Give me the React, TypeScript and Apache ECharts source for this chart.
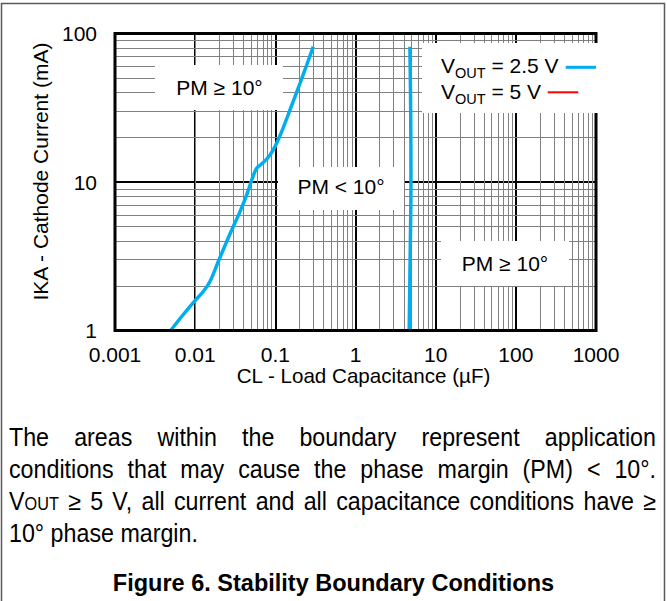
import React, { useEffect, useRef } from 'react';
import * as echarts from 'echarts';

// ---- data ----
const curveAX = [0.00495, 0.00679, 0.00948, 0.01263, 0.01531, 0.01943, 0.02473, 0.02989, 0.03624, 0.04394, 0.05189, 0.05855, 0.07077, 0.08578, 0.09904, 0.12, 0.1524, 0.2031, 0.2461, 0.2976];
const curveAY = [1, 1.242, 1.543, 1.83, 2.136, 2.913, 3.971, 5.011, 6.322, 8.189, 10.66, 12.39, 13.51, 15.22, 17.31, 21.84, 30.56, 46.23, 61.38, 81.5];
const curveBX = [4.67, 4.8, 4.92, 4.88, 4.77];
const curveBY = [1, 3, 10, 30, 81.5];
const seriesNames = ['VOUT = 2.5 V', 'VOUT = 5 V'];
const legendValues = ['= 2.5 V', '= 5 V'];
const xTickLabels = ['0.001', '0.01', '0.1', '1', '10', '100', '1000'];
const yTickLabels = ['1', '10', '100'];
const xTitle = 'CL - Load Capacitance (µF)';
const yTitle = 'IKA - Cathode Current (mA)';
const regionLabels = ['PM ≥ 10°', 'PM < 10°', 'PM ≥ 10°'];
const paragraphLines = [
  'The areas within the boundary represent application',
  'conditions that may cause the phase margin (PM) < 10°.',
  'VOUT ≥ 5 V, all current and all capacitance conditions have ≥',
  '10° phase margin.',
];
const figureTitle = 'Figure 6. Stability Boundary Conditions';

const FONT = '"Liberation Sans", Arial, Helvetica, sans-serif';
const BLUE = '#00AEEF';
const RED = '#FF0000';

function minorValues(minExp: number, maxExp: number) {
  const out: number[] = [];
  for (let e = minExp; e < maxExp; e++) {
    for (let k = 2; k <= 9; k++) out.push(parseFloat((k * Math.pow(10, e)).toPrecision(6)));
  }
  return out;
}

export default function App() {
  const ref = useRef<HTMLDivElement>(null);
  useEffect(() => {
    if (!ref.current) return;
    const chart = echarts.init(ref.current, undefined, { renderer: 'svg' });
    const canvas = document.createElement('canvas');
    const ctx = canvas.getContext('2d')!;
    const measure = (t: string, size: number, bold = false) => {
      ctx.font = `${bold ? 'bold ' : ''}${size}px ${FONT}`;
      return ctx.measureText(t).width;
    };

    const graphics: any[] = [];
    // outer frame
    graphics.push({
      type: 'rect', z: 100, silent: true,
      shape: { x: 1.5, y: 3.5, width: 663, height: 640 },
      style: { fill: 'none', stroke: '#5a5a5a', lineWidth: 1.5 },
    });
    // region label boxes
    const boxes = [
      { x: 155, y: 65, w: 128, h: 45, tx: 219.5, ty: 87.5 },
      { x: 278, y: 167, w: 126, h: 43, tx: 341, ty: 186 },
      { x: 441, y: 241, w: 128, h: 45, tx: 505, ty: 263.5 },
    ];
    boxes.forEach((b, i) => {
      graphics.push({ type: 'rect', z: 50, silent: true, shape: { x: b.x, y: b.y, width: b.w, height: b.h }, style: { fill: '#fff' } });
      graphics.push({
        type: 'text', z: 51, silent: true, x: b.tx, y: b.ty,
        style: { text: regionLabels[i], font: `21px ${FONT}`, fill: '#000', align: 'center', verticalAlign: 'middle' },
      });
    });
    // legend box
    graphics.push({ type: 'rect', z: 50, silent: true, shape: { x: 422, y: 43, width: 177, height: 70 }, style: { fill: '#fff' } });
    const LF = 21, LSF = 14.5;
    const legendRows = [
      { y: 65.6, sy: 73.4, lx1: 565.7, lx2: 596, ly: 67.3, color: BLUE, lw: 3 },
      { y: 91.2, sy: 99.0, lx1: 547.7, lx2: 578.3, ly: 92.3, color: RED, lw: 2 },
    ];
    legendRows.forEach((r, i) => {
      let x = 441;
      graphics.push({ type: 'text', z: 51, silent: true, x, y: r.y, style: { text: 'V', font: `${LF}px ${FONT}`, fill: '#000', align: 'left', verticalAlign: 'middle' } });
      x += measure('V', LF);
      graphics.push({ type: 'text', z: 51, silent: true, x, y: r.sy, style: { text: 'OUT', font: `${LSF}px ${FONT}`, fill: '#000', align: 'left', verticalAlign: 'middle' } });
      x += measure('OUT', LSF);
      graphics.push({ type: 'text', z: 51, silent: true, x, y: r.y, style: { text: ' ' + legendValues[i], font: `${LF}px ${FONT}`, fill: '#000', align: 'left', verticalAlign: 'middle' } });
      graphics.push({ type: 'line', z: 51, silent: true, shape: { x1: r.lx1, y1: r.ly, x2: r.lx2, y2: r.ly }, style: { stroke: r.color, lineWidth: r.lw } });
    });

    // paragraph (justified), slightly condensed glyphs
    const PF = 25, SF = 17.5, PSX = 0.93, L = 9, R = 656;
    const baselines = [446, 478, 510, 542];
    paragraphLines.forEach((line, li) => {
      const words = line.split(' ');
      const widths = words.map((w) => PSX * (w === 'VOUT' ? measure('V', PF) + measure('OUT', SF) : measure(w, PF)));
      const total = widths.reduce((a, b) => a + b, 0);
      const last = li === paragraphLines.length - 1;
      const gap = last ? PSX * measure(' ', PF) : (R - L - total) / (words.length - 1);
      const yc = baselines[li] - 0.3465 * PF;
      let x = L;
      words.forEach((w, wi) => {
        if (w === 'VOUT') {
          graphics.push({ type: 'text', z: 51, silent: true, x, y: yc, scaleX: PSX, style: { text: 'V', font: `${PF}px ${FONT}`, fill: '#000', align: 'left', verticalAlign: 'middle' } });
          graphics.push({ type: 'text', z: 51, silent: true, x: x + PSX * measure('V', PF), y: baselines[li] - 0.3465 * SF, scaleX: PSX, style: { text: 'OUT', font: `${SF}px ${FONT}`, fill: '#000', align: 'left', verticalAlign: 'middle' } });
        } else {
          graphics.push({ type: 'text', z: 51, silent: true, x, y: yc, scaleX: PSX, style: { text: w, font: `${PF}px ${FONT}`, fill: '#000', align: 'left', verticalAlign: 'middle' } });
        }
        x += widths[wi] + gap;
      });
    });
    graphics.push({
      type: 'text', z: 51, silent: true, x: 333.5, y: 582.8,
      style: { text: figureTitle, font: `bold 23.5px ${FONT}`, fill: '#000', align: 'center', verticalAlign: 'middle' },
    });

    const xMinor = minorValues(-3, 3);
    const yMinor = minorValues(0, 2);

    const option: any = {
      animation: false,
      backgroundColor: '#fff',
      grid: { left: 115, top: 33.5, width: 481, height: 297, show: true, z: 10, borderColor: '#000', borderWidth: 3, backgroundColor: 'transparent' },
      xAxis: {
        type: 'log', logBase: 10, min: 0.001, max: 1000,
        axisLine: { show: false },
        axisTick: { show: false },
        axisLabel: {
          margin: 13, fontSize: 21, color: '#000', fontFamily: FONT,
          formatter: (v: number) => xTickLabels[Math.round(Math.log10(v)) + 3] ?? '',
        },
        splitLine: { show: true, lineStyle: { color: '#000', width: 2 } },
        name: xTitle, nameLocation: 'middle', nameGap: 33,
        nameTextStyle: { fontSize: 20.6, color: '#000', fontFamily: FONT, padding: [0, 0, 0, 16] },
      },
      yAxis: {
        type: 'log', logBase: 10, min: 1, max: 100,
        axisLine: { show: false },
        axisTick: { show: false },
        axisLabel: {
          margin: 18, fontSize: 21, color: '#000', fontFamily: FONT,
          formatter: (v: number) => yTickLabels[Math.round(Math.log10(v))] ?? '',
        },
        splitLine: { show: true, lineStyle: { color: '#000', width: 2 } },
        name: yTitle, nameLocation: 'middle', nameGap: 58,
        nameTextStyle: { fontSize: 21, color: '#000', fontFamily: FONT, padding: [0, 0, 0, 21] },
      },
      series: [
        {
          name: 'grid', type: 'line', data: [], z: 1, silent: true,
          markLine: {
            silent: true, animation: false, symbol: ['none', 'none'], label: { show: false },
            lineStyle: { color: '#808080', width: 1, type: 'solid' },
            emphasis: { disabled: true },
            data: [...xMinor.map((v) => ({ xAxis: v })), ...yMinor.map((v) => ({ yAxis: v }))],
          },
        },
        {
          name: seriesNames[0], type: 'line', z: 5, symbol: 'none', smooth: 0.3,
          lineStyle: { color: BLUE, width: 3.5 },
          data: curveAX.map((x, i) => [x, curveAY[i]]),
        },
        {
          name: seriesNames[0], type: 'line', z: 5, symbol: 'none', smooth: 0.35,
          lineStyle: { color: BLUE, width: 3.5 },
          data: curveBX.map((x, i) => [x, curveBY[i]]),
        },
        { name: seriesNames[1], type: 'line', z: 5, symbol: 'none', lineStyle: { color: RED, width: 2 }, data: [] },
      ],
      graphic: graphics,
    };
    chart.setOption(option);
    return () => chart.dispose();
  }, []);
  return <div ref={ref} style={{ position: 'absolute', left: 0, top: 0, width: 667, height: 601, background: '#fff' }} />;
}
